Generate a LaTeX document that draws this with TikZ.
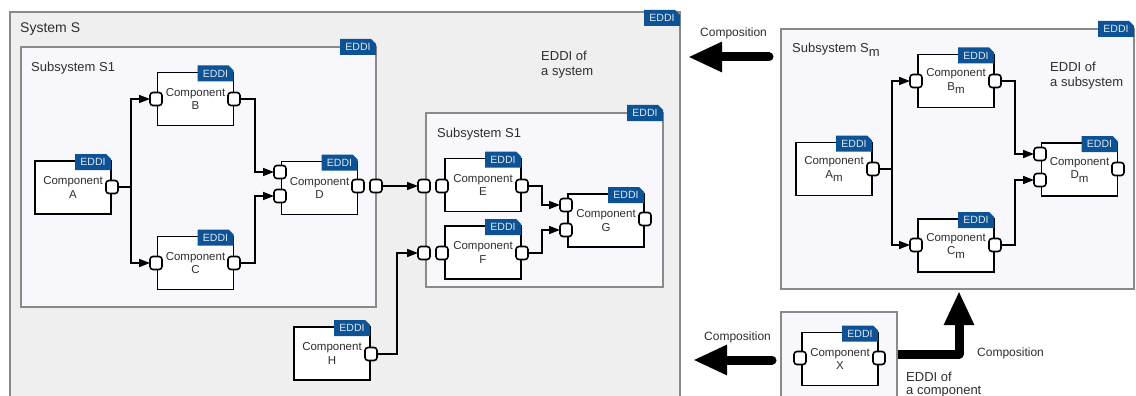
\documentclass[tikz,border=0pt]{standalone}
\usepackage{fontspec}
\setmainfont{Liberation Sans}
\usetikzlibrary{arrows.meta}

\definecolor{sysfill}{HTML}{EFEFEF}
\definecolor{subfill}{HTML}{F7F7FC}
\definecolor{frame}{HTML}{8A8A8A}
\definecolor{tagblue}{HTML}{0C5294}
\definecolor{tagtext}{HTML}{E2EAF4}
\definecolor{ink}{HTML}{2E2E2E}

% lowered index letter, as in A_m
\newcommand\lowm{\raisebox{-3.5pt}{m}}

\tikzset{
  sysbox/.style={draw=frame, line width=2.2pt, fill=sysfill},
  subbox/.style={draw=frame, line width=2.2pt, fill=subfill},
  comp/.style={draw=black, line width=1.8pt, fill=white, rectangle,
    inner sep=0pt, outer sep=0pt, minimum width=76pt, minimum height=53pt,
    align=center, text=ink, font=\fontsize{11.5}{13.5}\selectfont},
  port/.style={draw=black, line width=1.6pt, fill=white, rectangle,
    rounded corners=3pt, minimum width=12pt, minimum height=13pt,
    inner sep=0pt, outer sep=0pt},
  wire/.style={draw=black, line width=1.6pt},
  feed/.style={wire, -{Triangle[length=11pt,width=8pt]}},
  bigarrow/.style={draw=black, line width=9pt, line cap=round, line join=round,
    -{Triangle[length=34pt,width=28pt]}},
  txt/.style={anchor=base west, text=ink, inner sep=0pt},
  title/.style={txt, font=\fontsize{13}{15}\selectfont},
  note/.style={txt, font=\fontsize{13}{15}\selectfont},
  caption/.style={txt, font=\fontsize{12}{14}\selectfont},
  pics/eddi/.style={code={
    \fill[tagblue] (-36,0) -- (-5,0) -- (0,5) -- (0,16) -- (-36,16) -- cycle;
    \node[text=tagtext, inner sep=0pt, font=\fontsize{10.5}{12}\selectfont]
      (-label) at (-18,8.3) {EDDI};
  }},
}

\begin{document}
\begin{tikzpicture}[x=1pt, y=-1pt]
\useasboundingbox (0,0) rectangle (1136,396);
\clip (0,0) rectangle (1136,396);
\fill[white] (0,0) rectangle (1136,396);

% ---------------- System S ----------------
\draw[sysbox] (10,12) rectangle (680,420);
\pic (tSys) at (680,10) {eddi};
\node[title, font=\fontsize{14}{16}\selectfont] (lSys) at (20,33) {System S};
\node[note] (nSys1) at (541,61) {EDDI of};
\node[note] (nSys2) at (541,76) {a system};

% left subsystem S1
\draw[subbox] (21,47) rectangle (376,307);
\pic (tSubL) at (376,39) {eddi};
\node[title] (lSubL) at (31,71) {Subsystem S1};

\node[comp] (A) at (73,187.5) {Component\\A};
\node[comp] (B) at (195.5,99) {Component\\B};
\node[comp] (C) at (195.5,263) {Component\\C};
\node[comp] (D) at (319.5,188) {Component\\D};
\foreach \c in {A,B,C,D} \pic (t\c) at ([yshift=7pt]\c.north east) {eddi};

% right subsystem S1
\draw[subbox] (426,113) rectangle (663,287);
\pic (tSubR) at (663,105) {eddi};
\node[title] (lSubR) at (437,137) {Subsystem S1};

\node[comp] (E) at (483,185) {Component\\E};
\node[comp] (F) at (483,252.5) {Component\\F};
\node[comp] (G) at (606,220.5) {Component\\G};
\foreach \c in {E,F,G} \pic (t\c) at ([yshift=7pt]\c.north east) {eddi};

% stand-alone component H
\node[comp] (H) at (332,353.5) {Component\\H};
\pic (tH) at ([yshift=7pt]H.north east) {eddi};

% ports
\node[port] (Aout) at (112,187) {};
\node[port] (Bin) at (156,99) {};
\node[port] (Bout) at (234,99) {};
\node[port] (Cin) at (156,263) {};
\node[port] (Cout) at (234,263) {};
\node[port] (Din1) at (280,172) {};
\node[port] (Din2) at (280,196) {};
\node[port] (Dout) at (358,186) {};
\node[port] (S1out) at (376,186) {};
\node[port] (S2in1) at (424,186) {};
\node[port] (S2in2) at (424,253) {};
\node[port] (Ein) at (442,186) {};
\node[port] (Eout) at (522,186) {};
\node[port] (Fin) at (442,253) {};
\node[port] (Fout) at (522,253) {};
\node[port] (Gin1) at (566,205) {};
\node[port] (Gin2) at (566,230) {};
\node[port] (Gout) at (645,219) {};
\node[port] (Hout) at (371,354) {};

% junction columns
\coordinate (jA) at (131,0);
\coordinate (jB) at (255,0);
\coordinate (jE) at (542,0);
\coordinate (jH) at (397,0);

\draw[feed] (Aout.east) -- (Aout.east -| jA) |- (Bin.west);
\draw[feed] (Aout.east) -- (Aout.east -| jA) |- (Cin.west);
\draw[feed] (Bout.east) -- (Bout.east -| jB) |- (Din1.west);
\draw[feed] (Cout.east) -- (Cout.east -| jB) |- (Din2.west);
\draw[feed] (S1out.east) -- (S2in1.west);
\draw[feed] (Eout.east) -- (Eout.east -| jE) |- (Gin1.west);
\draw[feed] (Fout.east) -- (Fout.east -| jE) |- (Gin2.west);
\draw[feed] (Hout.east) -- (Hout.east -| jH) |- (S2in2.west);

% ---------------- Subsystem S_m ----------------
\draw[subbox] (781,29) rectangle (1134,289);
\pic (tSm) at (1134,21) {eddi};
\node[title] (lSm) at (792,53) {Subsystem S\lowm};
\node[note] (nSub1) at (1050,72) {EDDI of};
\node[note] (nSub2) at (1050,87) {a subsystem};

\node[comp] (Am) at (834,169) {Component\\A\lowm};
\node[comp] (Bm) at (956,81) {Component\\B\lowm};
\node[comp] (Cm) at (956,245.5) {Component\\C\lowm};
\node[comp] (Dm) at (1079.5,169.5) {Component\\D\lowm};
\foreach \c in {Am,Bm,Cm,Dm} \pic (t\c) at ([yshift=7pt]\c.north east) {eddi};

\node[port] (Amout) at (873,169) {};
\node[port] (Bmin) at (916,81) {};
\node[port] (Bmout) at (995,81) {};
\node[port] (Cmin) at (916,245) {};
\node[port] (Cmout) at (995,245) {};
\node[port] (Dmin1) at (1040,154) {};
\node[port] (Dmin2) at (1040,180) {};
\node[port] (Dmout) at (1118,169) {};

\coordinate (jAm) at (892,0);
\coordinate (jBm) at (1015,0);
\draw[feed] (Amout.east) -- (Amout.east -| jAm) |- (Bmin.west);
\draw[feed] (Amout.east) -- (Amout.east -| jAm) |- (Cmin.west);
\draw[feed] (Bmout.east) -- (Bmout.east -| jBm) |- (Dmin1.west);
\draw[feed] (Cmout.east) -- (Cmout.east -| jBm) |- (Dmin2.west);

% ---------------- Component X ----------------
\coordinate (up0) at (897,354);
\coordinate (up1) at (959,354);
\coordinate (up2) at (959,291);
\draw[bigarrow] (up0) -- (up1) -- (up2);

\draw[subbox] (781,312) rectangle (897,420);
\node[comp] (X) at (840,359) {Component\\X};
\pic (tX) at ([yshift=7pt]X.north east) {eddi};
\node[port] (Xin) at (800,358) {};
\node[port] (Xout) at (879,358) {};

\node[caption] (cUp) at (977,356) {Composition};
\node[note] (nComp1) at (906,381) {EDDI of};
\node[note] (nComp2) at (906,394) {a component};

% ---------------- composition arrows ----------------
\coordinate (top0) at (769,57);
\coordinate (top1) at (688,57);
\draw[bigarrow] (top0) -- (top1);
\node[caption] (cTop) at (700,37) {Composition};

\coordinate (low0) at (772,360);
\coordinate (low1) at (693,360);
\draw[bigarrow] (low0) -- (low1);
\node[caption] (cLow) at (704,340) {Composition};
\end{tikzpicture}
\end{document}
